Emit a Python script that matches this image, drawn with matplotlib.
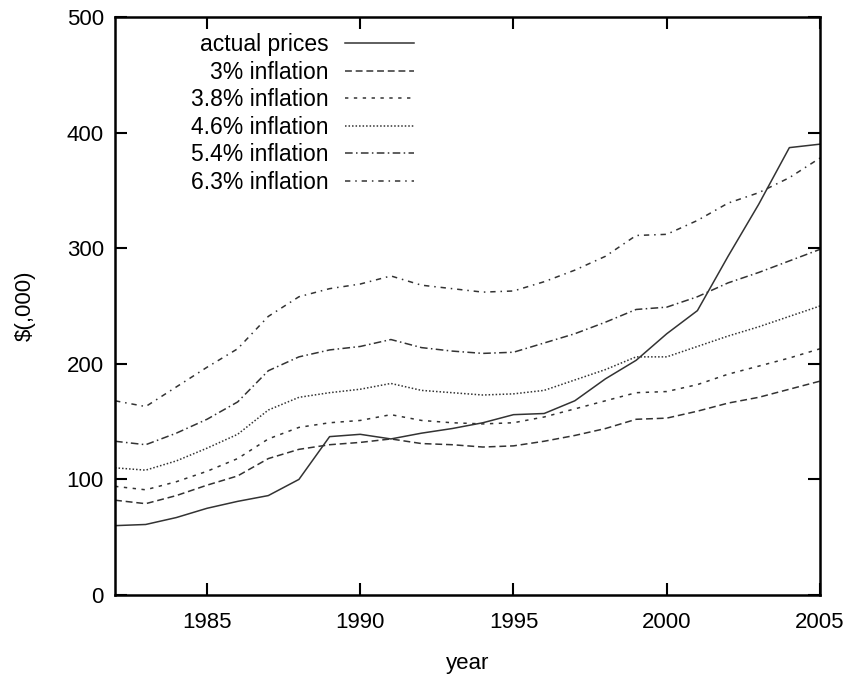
import numpy as np
import matplotlib
matplotlib.use('Agg')
import matplotlib.pyplot as plt

# house prices vs. inflation projections
years = list(range(1982, 2006))

actual = [60, 61, 67, 75, 81, 86, 100, 137, 139, 135, 140, 144, 149, 156,
          157, 168, 187, 203, 226, 246, 293, 338, 387, 390]
infl_3 = [82, 79, 86, 95, 103, 118, 126, 130, 132, 135, 131, 130, 128, 129,
          133, 138, 144, 152, 153, 159, 166, 171, 178, 185]
infl_38 = [94, 91, 98, 107, 118, 135, 145, 149, 151, 156, 151, 149, 148, 149,
           154, 161, 168, 175, 176, 182, 191, 198, 205, 213]
infl_46 = [110, 108, 116, 127, 139, 160, 171, 175, 178, 183, 177, 175, 173, 174,
           177, 186, 195, 206, 206, 215, 224, 232, 241, 250]
infl_54 = [133, 130, 140, 152, 167, 194, 206, 212, 215, 221, 214, 211, 209, 210,
           218, 226, 236, 247, 249, 258, 270, 279, 289, 299]
infl_63 = [168, 163, 180, 197, 213, 241, 258, 265, 269, 276, 268, 265, 262, 263,
           271, 281, 293, 311, 312, 324, 339, 348, 361, 378]

labels = ['actual prices', '3% inflation', '3.8% inflation',
          '4.6% inflation', '5.4% inflation', '6.3% inflation']

plt.rcParams['font.family'] = ['Liberation Sans', 'DejaVu Sans']
plt.rcParams['font.size'] = 16

fig = plt.figure(figsize=(8.54, 6.80), dpi=100)
ax = fig.add_axes([0.1347, 0.125, 0.8255, 0.85])

col = '#333333'
lw = 1.1
ax.plot(years, actual, color=col, lw=lw, label=labels[0])
ax.plot(years, infl_3, color=col, lw=lw, dashes=(4.5, 2.5), label=labels[1])
ax.plot(years, infl_38, color=col, lw=lw, dashes=(2.2, 3.6), label=labels[2])
ax.plot(years, infl_46, color=col, lw=lw, dashes=(1.0, 1.3), label=labels[3])
ax.plot(years, infl_54, color=col, lw=lw, dashes=(5, 2.2, 1, 2.2), label=labels[4])
ax.plot(years, infl_63, color=col, lw=lw, dashes=(3.5, 3.2, 1, 3.2), label=labels[5])

ax.set_xlim(1982, 2005)
ax.set_ylim(0, 500)
ax.set_xticks([1985, 1990, 1995, 2000, 2005])
ax.set_yticks([0, 100, 200, 300, 400, 500])
ax.tick_params(direction='in', length=8.5, width=1.5, top=True, right=True)
ax.tick_params(axis='x', pad=12)
ax.tick_params(axis='y', pad=8)
for s in ax.spines.values():
    s.set_linewidth(1.8)

ax.set_xlabel('year', labelpad=15)
ax.set_ylabel('$(,000)', labelpad=22)

leg = ax.legend(loc='upper right', bbox_to_anchor=(0.43, 0.98), frameon=False,
                markerfirst=False, handlelength=3.0, handletextpad=0.7,
                labelspacing=0.2, borderpad=0.2, borderaxespad=0,
                fontsize=16.5)

fig.savefig('out.png', dpi=100)
